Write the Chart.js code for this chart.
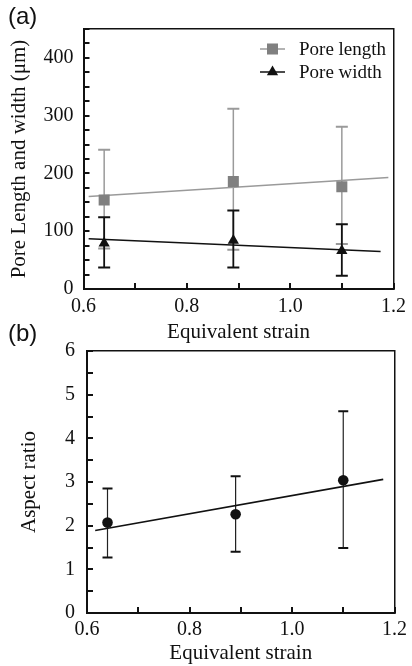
<!DOCTYPE html>
<html>
<head>
<meta charset="utf-8">
<script src="https://cdn.jsdelivr.net/npm/chart.js@4.4.1/dist/chart.umd.min.js"></script>
<style>
  html, body { margin: 0; padding: 0; background: #fff; }
  body { width: 412px; height: 666px; position: relative; overflow: hidden; }
  .panel { position: absolute; left: 0; width: 412px; }
  #wrapA { top: 0; height: 345px; }
  #wrapB { top: 320px; height: 346px; }
  .tag { position: absolute; font-family: "Liberation Sans", Arial, sans-serif; font-size: 24px; color: #111; line-height: 1; }
</style>
</head>
<body>
<div class="panel" id="wrapB"><canvas id="chartB" width="412" height="346"></canvas></div>
<div class="panel" id="wrapA"><canvas id="chartA" width="412" height="345"></canvas></div>
<div class="tag" style="left:8px; top:4px;">(a)</div>
<div class="tag" style="left:8px; top:321px;">(b)</div>
<script>
// ---------------- data ----------------
const strain = [0.64, 0.89, 1.10];

const poreLength = [154, 186, 177];
const poreLengthUpper = [241, 312, 281];
const poreLengthLower = [70, 68, 78];

const poreWidth = [79, 84, 66];
const poreWidthUpper = [124, 136, 112];
const poreWidthLower = [37, 37, 23];

const lengthFitX = [0.61, 1.19];
const lengthFitY = [160, 193];
const widthFitX = [0.61, 1.175];
const widthFitY = [87, 65];

const aspectRatio = [2.07, 2.26, 3.04];
const aspectUpper = [2.85, 3.13, 4.62];
const aspectLower = [1.27, 1.40, 1.49];
const aspectFitX = [0.616, 1.178];
const aspectFitY = [1.89, 3.06];

const xTickValues = [0.6, 0.7, 0.8, 0.9, 1.0, 1.1, 1.2];
const xTicksMajor = [0.6, 0.8, 1.0, 1.2];
const yTicksA = [0, 100, 200, 300, 400];
const yTicksB = [0, 1, 2, 3, 4, 5, 6];

// ---------------- helpers ----------------
const SERIF = '"Liberation Serif", "Times New Roman", serif';
const pts = (xs, ys) => xs.map((x, i) => ({x: x, y: ys[i]}));
function errorData(xs, lo, hi) {
  const out = [];
  xs.forEach((x, i) => { out.push({x: x, y: lo[i]}, {x: x, y: hi[i]}, {x: x, y: null}); });
  return out;
}

// inward tick marks on the bottom and left axes, placed by the scales
const innerTicks = {
  id: 'innerTicks',
  afterDraw(chart) {
    const ctx = chart.ctx, area = chart.chartArea;
    ['x', 'y'].forEach(id => {
      const s = chart.scales[id];
      if (!s) return;
      ctx.save();
      ctx.strokeStyle = '#111';
      ctx.lineWidth = 2;
      (s.ticks || []).forEach(t => {
        const p = Math.round(s.getPixelForValue(t.value));
        ctx.beginPath();
        if (id === 'x') { ctx.moveTo(p, area.bottom); ctx.lineTo(p, area.bottom - 6); }
        else { ctx.moveTo(area.left, p); ctx.lineTo(area.left + 6, p); }
        ctx.stroke();
      });
      ctx.restore();
    });
  }
};

const insideLegend = {
  id: 'insideLegend',
  afterDraw(chart, args, opts) {
    if (!opts || !opts.items) return;
    const ctx = chart.ctx;
    opts.items.forEach((it, i) => {
      const ds = chart.data.datasets[it.dataset];
      const y = opts.top + i * opts.rowHeight;
      const cx = opts.x + opts.lineLength / 2;
      ctx.save();
      ctx.strokeStyle = it.lineColor;
      ctx.lineWidth = 1.5;
      ctx.beginPath();
      ctx.moveTo(opts.x, y);
      ctx.lineTo(opts.x + opts.lineLength, y);
      ctx.stroke();
      ctx.fillStyle = ds.pointBackgroundColor;
      ctx.strokeStyle = ds.pointBackgroundColor;
      Chart.helpers.drawPoint(ctx, {pointStyle: ds.pointStyle, radius: ds.pointRadius, rotation: 0, borderWidth: 0}, cx, y);
      ctx.fillStyle = '#111';
      ctx.font = opts.font;
      ctx.textAlign = 'left';
      ctx.textBaseline = 'middle';
      ctx.fillText(ds.label, opts.textX, y + 1);
      ctx.restore();
    });
  }
};

function xScale(h, pad) {
  return {
    type: 'linear', position: 'bottom', min: 0.6, max: 1.2,
    afterBuildTicks: (s) => { s.ticks = xTickValues.map(v => ({value: v})); },
    ticks: {
      color: '#111', padding: pad, maxRotation: 0, autoSkip: false,
      font: {family: SERIF, size: 20},
      callback: (v) => { const t = Math.round(v * 10) / 10; return xTicksMajor.some(m => Math.abs(m - t) < 1e-6) ? t.toFixed(1) : ''; }
    },
    grid: {drawOnChartArea: false, drawTicks: false, tickLength: 0, color: '#111', lineWidth: 1.5},
    border: {display: true, color: '#111', width: 2},
    title: {display: true, text: 'Equivalent strain', color: '#111', font: {family: SERIF, size: 21}, padding: {top: 0, bottom: 0}},
    afterFit: (s) => { s.height = h; }
  };
}
function yScale(w, max, step, majors, pad, title, titleSize, titlePad) {
  return {
    type: 'linear', position: 'left', min: 0, max: max,
    ticks: {
      stepSize: step, color: '#111', padding: pad, autoSkip: false,
      font: {family: SERIF, size: 20},
      callback: (v) => majors.some(m => Math.abs(m - v) < 1e-6) ? String(Math.round(v)) : ''
    },
    grid: {drawOnChartArea: false, drawTicks: false, tickLength: 0, color: '#111', lineWidth: 1.5},
    border: {display: true, color: '#111', width: 2},
    title: {display: true, text: title, color: '#111', font: {family: SERIF, size: titleSize}, padding: {top: titlePad, bottom: 0}},
    afterFit: (s) => { s.width = w; }
  };
}
const frameX = {type: 'linear', position: 'top', min: 0.6, max: 1.2, ticks: {display: false}, grid: {display: false, drawTicks: false}, border: {display: true, color: '#111', width: 1.5}, afterFit: (s) => { s.height = 0; }};
const frameY = (max) => ({type: 'linear', position: 'right', min: 0, max: max, ticks: {display: false}, grid: {display: false, drawTicks: false}, border: {display: true, color: '#111', width: 1.5}, afterFit: (s) => { s.width = 0; }});

const commonOpts = {
  responsive: false, animation: false, events: [],
  plugins: {legend: {display: false}, tooltip: {enabled: false}}
};

// ---------------- chart (a) ----------------
const GRAY_MARK = '#808080', GRAY_LINE = '#9a9a9a', BLACK = '#111';
new Chart(document.getElementById('chartA'), {
  type: 'line',
  data: {
    datasets: [
      {label: 'Pore length', data: pts(strain, poreLength), showLine: false, pointStyle: 'rect', pointRadius: 7.8,
       pointBackgroundColor: GRAY_MARK, pointBorderWidth: 0, backgroundColor: GRAY_MARK, borderColor: GRAY_MARK, order: 3},
      {label: 'Pore width', data: pts(strain, poreWidth), showLine: false, pointStyle: 'triangle', pointRadius: 6.5,
       pointBackgroundColor: BLACK, pointBorderWidth: 0, backgroundColor: BLACK, borderColor: BLACK, order: 0},
      {label: 'length error', data: errorData(strain, poreLengthLower, poreLengthUpper), spanGaps: false, borderColor: GRAY_LINE, borderWidth: 1.5,
       pointStyle: 'line', pointRadius: 6, pointBorderColor: GRAY_LINE, pointBorderWidth: 2, order: 5},
      {label: 'length fit', data: pts(lengthFitX, lengthFitY), borderColor: GRAY_LINE, borderWidth: 1.6, pointRadius: 0, order: 4},
      {label: 'width error', data: errorData(strain, poreWidthLower, poreWidthUpper), spanGaps: false, borderColor: BLACK, borderWidth: 1.8,
       pointStyle: 'line', pointRadius: 6, pointBorderColor: BLACK, pointBorderWidth: 2, order: 2},
      {label: 'width fit', data: pts(widthFitX, widthFitY), borderColor: BLACK, borderWidth: 1.6, pointRadius: 0, order: 1}
    ]
  },
  options: Object.assign({}, commonOpts, {
    layout: {padding: {left: 0, right: 12, top: 29, bottom: 0}},
    scales: {
      x: xScale(56, 6),
      y: yScale(83.5, 450, 25, yTicksA, 10, 'Pore Length and width (\u03bcm)', 21, 7),
      xTop: frameX,
      yRight: frameY(450)
    },
    plugins: Object.assign({}, commonOpts.plugins, {
      insideLegend: {x: 260, lineLength: 25, textX: 299, top: 49, rowHeight: 23, font: '19px ' + SERIF,
        items: [{dataset: 0, lineColor: GRAY_LINE}, {dataset: 1, lineColor: BLACK}]}
    })
  }),
  plugins: [innerTicks, insideLegend]
});

// ---------------- chart (b) ----------------
new Chart(document.getElementById('chartB'), {
  type: 'line',
  data: {
    datasets: [
      {label: 'Aspect ratio', data: pts(strain, aspectRatio), showLine: false, pointStyle: 'circle', pointRadius: 5.3,
       pointBackgroundColor: BLACK, pointBorderWidth: 0, backgroundColor: BLACK, borderColor: BLACK, order: 0},
      {label: 'aspect error', data: errorData(strain, aspectLower, aspectUpper), spanGaps: false, borderColor: '#222', borderWidth: 1.2,
       pointStyle: 'line', pointRadius: 5, pointBorderColor: BLACK, pointBorderWidth: 2, order: 2},
      {label: 'aspect fit', data: pts(aspectFitX, aspectFitY), borderColor: BLACK, borderWidth: 1.6, pointRadius: 0, order: 1}
    ]
  },
  options: Object.assign({}, commonOpts, {
    layout: {padding: {left: 0, right: 6, top: 31, bottom: 0}},
    scales: {
      x: xScale(53, 5),
      y: yScale(87, 6, 0.5, yTicksB, 12, 'Aspect ratio', 21, 17),
      xTop: frameX,
      yRight: frameY(6)
    }
  }),
  plugins: [innerTicks]
});
</script>
</body>
</html>
